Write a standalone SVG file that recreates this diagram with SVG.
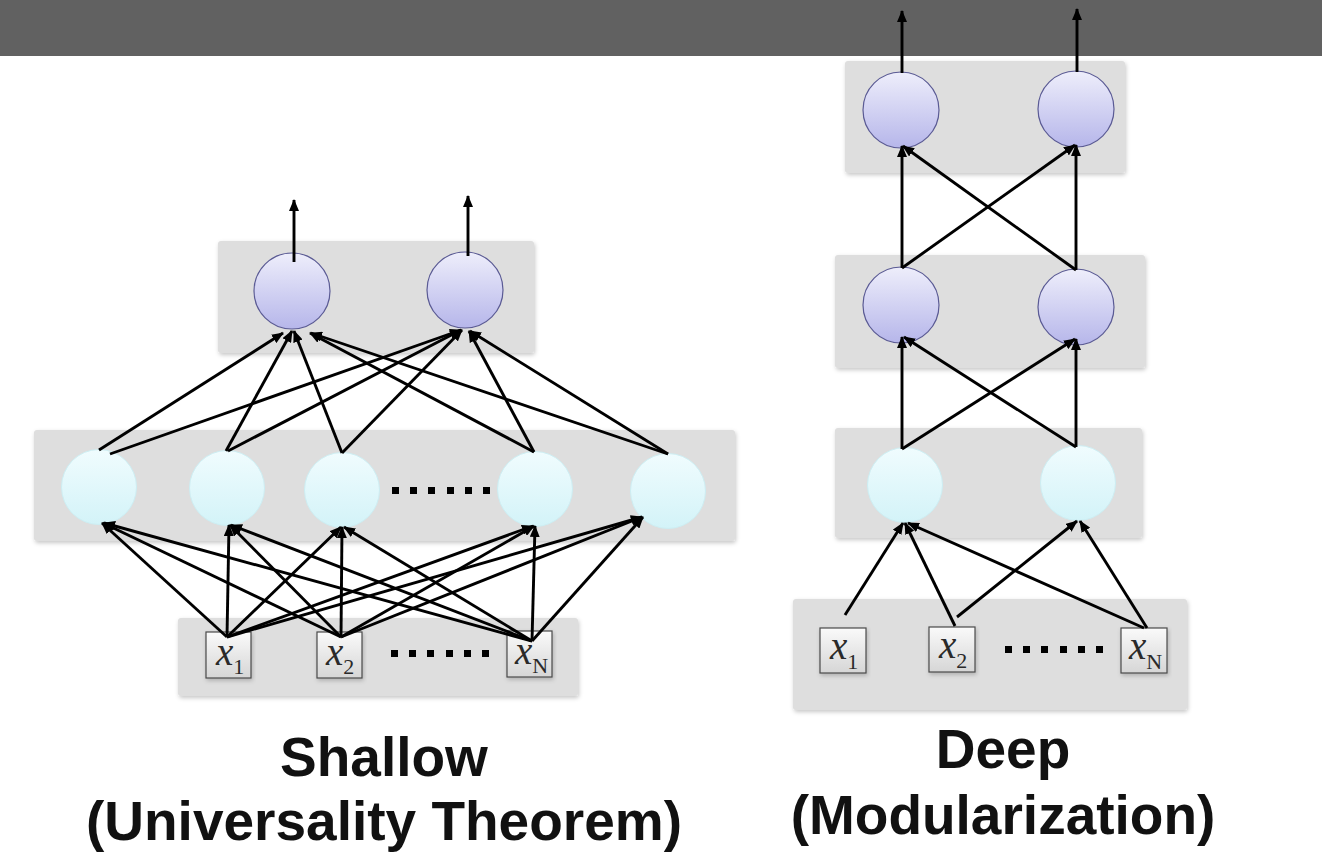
<svg xmlns="http://www.w3.org/2000/svg" width="1322" height="860" viewBox="0 0 1322 860">
<defs>
<linearGradient id="gOut" x1="0" y1="0" x2="0" y2="1"><stop offset="0" stop-color="#eeeefb"/><stop offset="1" stop-color="#b6b6ea"/></linearGradient>
<linearGradient id="gHid" x1="0" y1="0" x2="0" y2="1"><stop offset="0" stop-color="#f0fcfe"/><stop offset="1" stop-color="#d3f3f8"/></linearGradient>
<linearGradient id="gBox" x1="0" y1="0" x2="0" y2="1"><stop offset="0" stop-color="#fafafa"/><stop offset="1" stop-color="#d6d6d6"/></linearGradient>
<filter id="sh" x="-10%" y="-10%" width="120%" height="130%"><feDropShadow dx="1" dy="2" stdDeviation="2" flood-color="#000" flood-opacity="0.22"/></filter>
<marker id="ah" markerWidth="12" markerHeight="10" refX="11" refY="5" orient="auto" markerUnits="userSpaceOnUse"><path d="M0,0 L12,5 L0,10 z" fill="#000"/></marker>
</defs>
<style>
.panel{fill:#dedede;filter:url(#sh)}
.on{fill:url(#gOut);stroke:#5a5a94;stroke-width:1.2}
.hn{fill:url(#gHid);stroke:#cdeef3;stroke-width:1}
.box{fill:url(#gBox);stroke:#4a4a4a;stroke-width:1.2;filter:url(#sh)}
.xv{font-family:"Liberation Serif","Times New Roman",serif;font-style:italic;font-size:39px;fill:#2a2a2a}
.sub{font-style:normal;font-size:22px}
.ln{stroke:#000;stroke-width:2.9;fill:none;marker-end:url(#ah)}
.dot{fill:#000}
.lbl{font-family:"Liberation Sans",Arial,sans-serif;font-weight:bold;font-size:55px;fill:#111;text-anchor:middle}
</style>
<rect x="0" y="0" width="1322" height="56" fill="#616161"/>

<!-- panels -->
<g id="panels">
<rect class="panel" x="218" y="241" width="316" height="112" rx="3"/>
<rect class="panel" x="34" y="430" width="701" height="111" rx="3"/>
<rect class="panel" x="178" y="618" width="400" height="78" rx="3"/>
<rect class="panel" x="845" y="61" width="280" height="112" rx="3"/>
<rect class="panel" x="835" y="255" width="310" height="113" rx="3"/>
<rect class="panel" x="835" y="428" width="307" height="110" rx="3"/>
<rect class="panel" x="793" y="599" width="394" height="111" rx="3"/>
</g>

<!-- shallow nodes -->
<g id="s-out1"><circle class="on" cx="292" cy="291" r="38"/></g>
<g id="s-out2"><circle class="on" cx="465" cy="290" r="38"/></g>
<g id="s-h1"><circle class="hn" cx="99" cy="487" r="37.5"/></g>
<g id="s-h2"><circle class="hn" cx="227" cy="488" r="37.5"/></g>
<g id="s-h3"><circle class="hn" cx="342" cy="490" r="37.5"/></g>
<g id="s-h4"><circle class="hn" cx="535" cy="489" r="37.5"/></g>
<g id="s-h5"><circle class="hn" cx="668" cy="491" r="37.5"/></g>
<g id="s-hdots">
<rect class="dot" x="392" y="487" width="7" height="7"/><rect class="dot" x="410" y="487" width="7" height="7"/><rect class="dot" x="428" y="487" width="7" height="7"/><rect class="dot" x="447" y="487" width="7" height="7"/><rect class="dot" x="465" y="487" width="7" height="7"/><rect class="dot" x="483" y="487" width="7" height="7"/>
</g>
<g id="s-x1"><rect class="box" x="206" y="632" width="45" height="46"/><text class="xv" x="216" y="665">x<tspan class="sub" dy="9">1</tspan></text></g>
<g id="s-x2"><rect class="box" x="317" y="632" width="45" height="46"/><text class="xv" x="326" y="665">x<tspan class="sub" dy="9">2</tspan></text></g>
<g id="s-xN"><rect class="box" x="507" y="631" width="45" height="46"/><text class="xv" x="515" y="664">x<tspan class="sub" dy="9">N</tspan></text></g>
<g id="s-xdots">
<rect class="dot" x="391" y="650" width="7" height="7"/><rect class="dot" x="409" y="650" width="7" height="7"/><rect class="dot" x="427" y="650" width="7" height="7"/><rect class="dot" x="446" y="650" width="7" height="7"/><rect class="dot" x="464" y="650" width="7" height="7"/><rect class="dot" x="482" y="650" width="7" height="7"/>
</g>

<!-- deep nodes -->
<g id="d-t1"><circle class="on" cx="901" cy="110" r="38"/></g>
<g id="d-t2"><circle class="on" cx="1076" cy="109" r="38"/></g>
<g id="d-m1"><circle class="on" cx="901" cy="305" r="38"/></g>
<g id="d-m2"><circle class="on" cx="1076" cy="307" r="38"/></g>
<g id="d-l1"><circle class="hn" cx="905" cy="485" r="37.5"/></g>
<g id="d-l2"><circle class="hn" cx="1078" cy="483" r="37.5"/></g>
<g id="d-x1"><rect class="box" x="820" y="628" width="46" height="45"/><text class="xv" x="830" y="659">x<tspan class="sub" dy="10">1</tspan></text></g>
<g id="d-x2"><rect class="box" x="929" y="627" width="46" height="45"/><text class="xv" x="939" y="658">x<tspan class="sub" dy="10">2</tspan></text></g>
<g id="d-xN"><rect class="box" x="1121" y="628" width="46" height="45"/><text class="xv" x="1129" y="659">x<tspan class="sub" dy="10">N</tspan></text></g>
<g id="d-xdots">
<rect class="dot" x="1005" y="646" width="7" height="7"/><rect class="dot" x="1023" y="646" width="7" height="7"/><rect class="dot" x="1041" y="646" width="7" height="7"/><rect class="dot" x="1060" y="646" width="7" height="7"/><rect class="dot" x="1078" y="646" width="7" height="7"/><rect class="dot" x="1096" y="646" width="7" height="7"/>
</g>

<!-- connectors -->
<g id="connectors">
<line class="ln" x1="294" y1="262" x2="294" y2="200"/>
<line class="ln" x1="468" y1="256" x2="468" y2="196"/>
<line class="ln" x1="99" y1="450" x2="283" y2="333"/>
<line class="ln" x1="110" y1="454" x2="461" y2="330"/>
<line class="ln" x1="226" y1="451" x2="292" y2="331"/>
<line class="ln" x1="228" y1="451" x2="461" y2="330"/>
<line class="ln" x1="342" y1="453" x2="294" y2="331"/>
<line class="ln" x1="342" y1="453" x2="462" y2="330"/>
<line class="ln" x1="534" y1="452" x2="310" y2="333"/>
<line class="ln" x1="534" y1="452" x2="469" y2="331"/>
<line class="ln" x1="668" y1="454" x2="311" y2="333"/>
<line class="ln" x1="668" y1="454" x2="470" y2="331"/>
<line class="ln" x1="227" y1="637" x2="102" y2="523"/>
<line class="ln" x1="227" y1="637" x2="229" y2="525"/>
<line class="ln" x1="227" y1="637" x2="341" y2="527"/>
<line class="ln" x1="227" y1="637" x2="533" y2="526"/>
<line class="ln" x1="227" y1="637" x2="642" y2="517"/>
<line class="ln" x1="341" y1="637" x2="103" y2="523"/>
<line class="ln" x1="341" y1="637" x2="230" y2="525"/>
<line class="ln" x1="341" y1="637" x2="342" y2="527"/>
<line class="ln" x1="341" y1="637" x2="534" y2="526"/>
<line class="ln" x1="341" y1="637" x2="642" y2="517"/>
<line class="ln" x1="532" y1="641" x2="104" y2="523"/>
<line class="ln" x1="532" y1="641" x2="231" y2="525"/>
<line class="ln" x1="532" y1="641" x2="344" y2="527"/>
<line class="ln" x1="532" y1="641" x2="535" y2="526"/>
<line class="ln" x1="532" y1="641" x2="643" y2="517"/>
<line class="ln" x1="902" y1="73" x2="902" y2="11"/>
<line class="ln" x1="1077" y1="72" x2="1077" y2="9"/>
<line class="ln" x1="902" y1="268" x2="902" y2="146"/>
<line class="ln" x1="902" y1="268" x2="1075" y2="145"/>
<line class="ln" x1="1076" y1="270" x2="1076" y2="145"/>
<line class="ln" x1="1076" y1="270" x2="903" y2="146"/>
<line class="ln" x1="902" y1="449" x2="902" y2="337"/>
<line class="ln" x1="902" y1="449" x2="1075" y2="339"/>
<line class="ln" x1="1076" y1="447" x2="1076" y2="339"/>
<line class="ln" x1="1076" y1="447" x2="904" y2="337"/>
<line class="ln" x1="845" y1="615" x2="903" y2="523"/>
<line class="ln" x1="955" y1="626" x2="905" y2="523"/>
<line class="ln" x1="957" y1="617" x2="1077" y2="521"/>
<line class="ln" x1="1144" y1="628" x2="908" y2="523"/>
<line class="ln" x1="1147" y1="628" x2="1080" y2="521"/>
</g>

<g id="labels">
<text class="lbl" x="384" y="776">Shallow</text>
<text class="lbl" x="384" y="840">(Universality Theorem)</text>
<text class="lbl" x="1003" y="768">Deep</text>
<text class="lbl" x="1003" y="834">(Modularization)</text>
</g>
</svg>
